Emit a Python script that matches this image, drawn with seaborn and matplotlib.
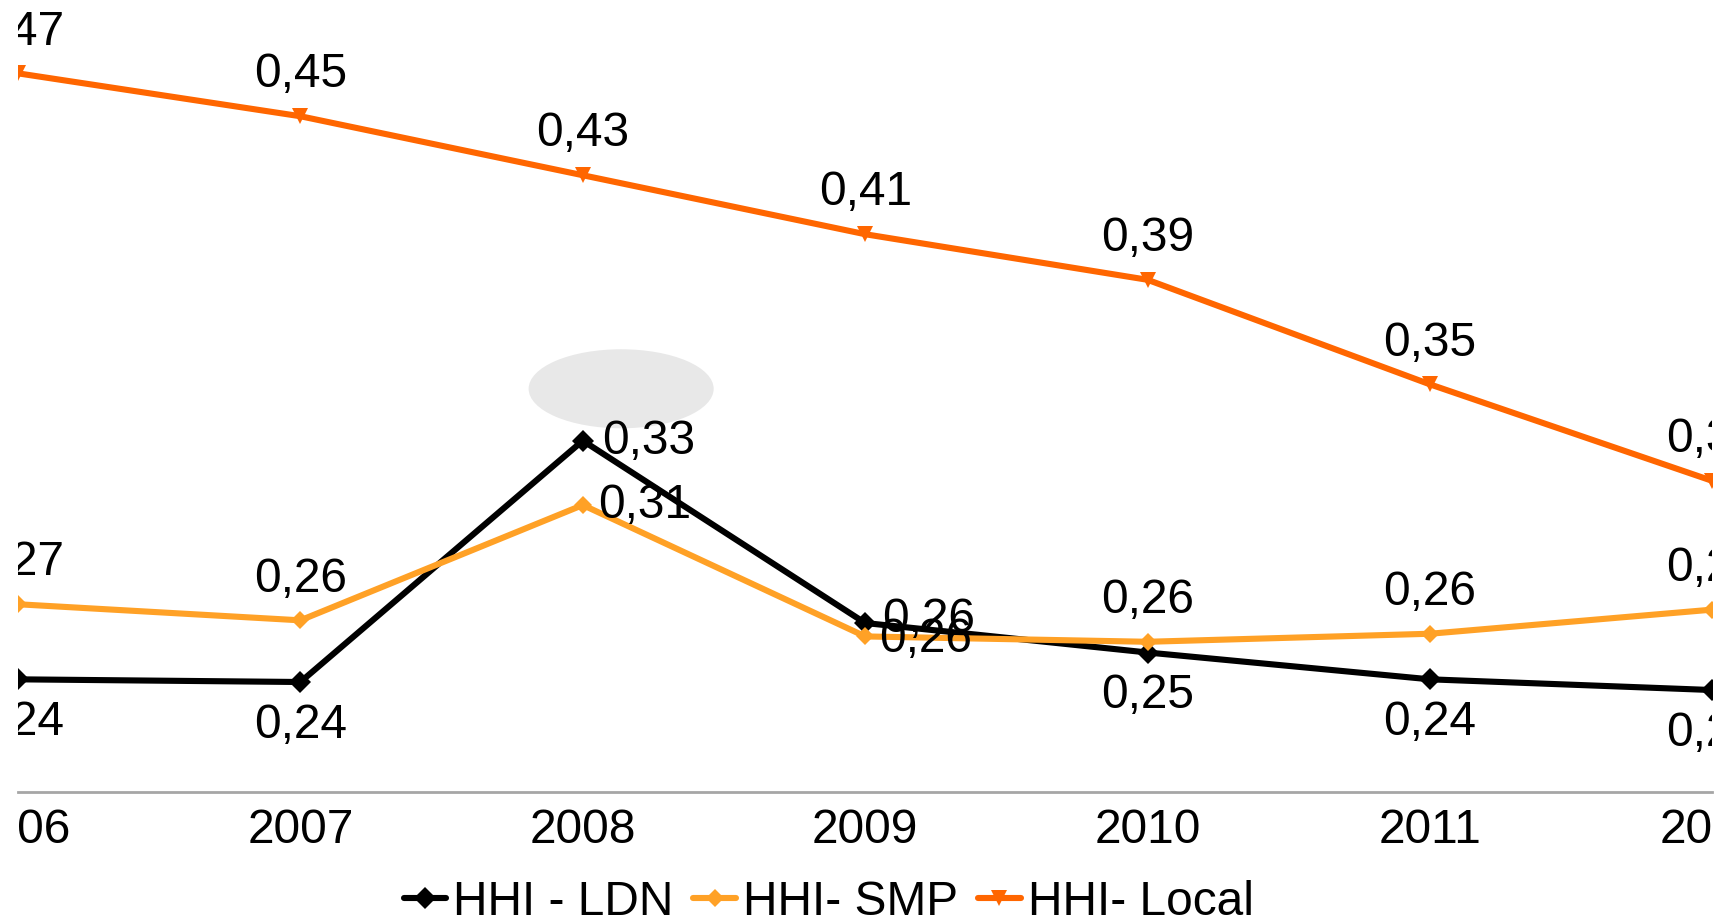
import matplotlib
matplotlib.use("Agg")
import matplotlib.pyplot as plt
import seaborn as sns
import pandas as pd
from matplotlib.patches import Ellipse
from matplotlib.transforms import Bbox, TransformedBbox

years = [2006, 2007, 2008, 2009, 2010, 2011, 2012]
hhi_ldn = [0.242, 0.241, 0.331, 0.263, 0.252, 0.242, 0.238]
hhi_smp = [0.270, 0.264, 0.307, 0.258, 0.256, 0.259, 0.268]
hhi_local = [0.468, 0.452, 0.430, 0.408, 0.391, 0.352, 0.316]
series_names = ["HHI - LDN", "HHI- SMP", "HHI- Local"]

sns.set_theme(style="white")
plt.rcParams["font.family"] = ["Liberation Sans", "DejaVu Sans"]

FS = 34.5
W, H = 1715, 918
fig = plt.figure(figsize=((W + 0.4) / 100, (H + 0.4) / 100), dpi=100)
ax_left, ax_right = 18 / W, 1712 / W
ax_bottom = (H - 792) / H
ax = fig.add_axes([ax_left, ax_bottom, ax_right - ax_left, 1 - ax_bottom])

df = pd.DataFrame({
    "year": years * 3,
    "value": hhi_ldn + hhi_smp + hhi_local,
    "series": [series_names[0]] * 7 + [series_names[1]] * 7 + [series_names[2]] * 7,
})

colors = {"HHI - LDN": "#000000", "HHI- SMP": "#FFA126", "HHI- Local": "#FF6600"}
markers = {"HHI - LDN": "D", "HHI- SMP": "D", "HHI- Local": "v"}
msizes = {"HHI - LDN": 11, "HHI- SMP": 9, "HHI- Local": 12}

for name in series_names:
    sub = df[df["series"] == name]
    sns.lineplot(data=sub, x="year", y="value", ax=ax, color=colors[name],
                 marker=markers[name], markersize=msizes[name],
                 markeredgewidth=0, linewidth=4.4, label=name, zorder=3)

ax.set_xlim(2006, 2012)
ax.set_ylim(0.2, 0.4955)
ax.set_xticks(years)
ax.set_xticklabels([str(y) for y in years])
ax.set_yticks([])
ax.set_xlabel("")
ax.set_ylabel("")
for s in ["top", "left", "right"]:
    ax.spines[s].set_visible(False)
ax.spines["bottom"].set_color("#A6A6A6")
ax.spines["bottom"].set_linewidth(2)
ax.tick_params(axis="x", length=0, pad=11.3, labelsize=FS, colors="black")

# grey shape near 2008
ell = Ellipse((621 / W, 1 - 389 / H), 185 / W, 79 / H, transform=fig.transFigure,
              facecolor="#E8E8E8", edgecolor="none", zorder=1)
ax.add_patch(ell)

clip = TransformedBbox(Bbox([[ax_left, 0], [ax_right, 1]]), fig.transFigure)

def fmt(v):
    return f"{v:.2f}".replace(".", ",")

texts = []
# label placements: (dx, dy, ha)
place_local = [(0, 30, "center")] * 7
place_ldn = [(0, -31, "center"), (0, -31, "center"), (14, 0, "left"), (12, 3, "left"),
             (0, -31, "center"), (0, -31, "center"), (0, -31, "center")]
place_smp = [(0, 30, "center"), (0, 30, "center"), (11, 0, "left"), (10, -2, "left"),
             (0, 30, "center"), (0, 30, "center"), (0, 30, "center")]

for vals, places in [(hhi_local, place_local), (hhi_ldn, place_ldn), (hhi_smp, place_smp)]:
    for x, v, (dx, dy, ha) in zip(years, vals, places):
        t = ax.annotate(fmt(v), (x, v), xytext=(dx, dy), textcoords="offset points",
                        ha=ha, va="center", fontsize=FS, color="black", zorder=5,
                        annotation_clip=False)
        texts.append(t)

for t in texts + list(ax.get_xticklabels()):
    t.set_clip_box(clip)
    t.set_clip_on(True)

leg = ax.legend(loc="center", bbox_to_anchor=(828.5 / W, 1 - 902.5 / H),
                bbox_transform=fig.transFigure, ncol=3, frameon=False,
                fontsize=FS, handlelength=0.89, handletextpad=0.15,
                columnspacing=0.41, borderaxespad=0, borderpad=0,
                labelcolor="black")

fig.savefig("out.png", dpi=100, facecolor="white")
